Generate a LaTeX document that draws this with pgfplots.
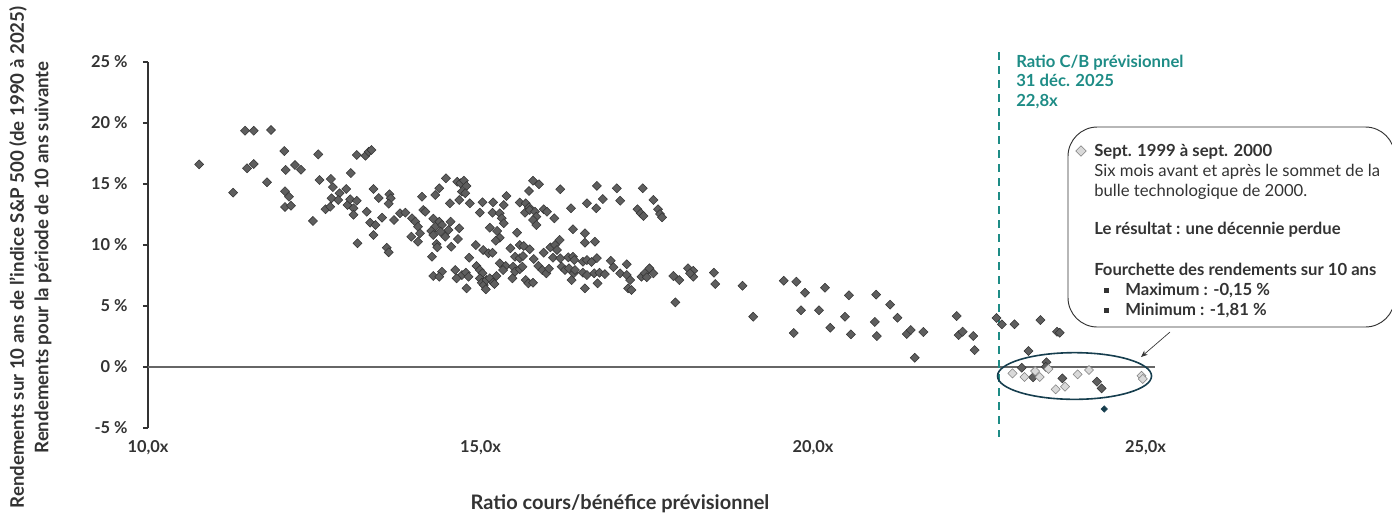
\documentclass[border=0pt]{standalone}
\usepackage{pgfplots}
\pgfplotsset{compat=1.18}
\usepackage{fontspec}
\setmainfont{Lato}
\usetikzlibrary{arrows.meta}
\definecolor{ptdark}{HTML}{5E5E5E}
\definecolor{ptedge}{HTML}{333333}
\definecolor{ptlight}{HTML}{D9D9D9}
\definecolor{ptlightedge}{HTML}{7F7F7F}
\definecolor{navy}{HTML}{163E4E}
\definecolor{tealc}{HTML}{1E8C86}
\definecolor{txt}{HTML}{333333}
\begin{document}
\begin{tikzpicture}
\useasboundingbox (0,0) rectangle (1044pt,-384pt);
\begin{axis}[
	at={(111pt,-321pt)},anchor=south west,
	scale only axis,width=755.6pt,height=274.5pt,
	xmin=10,xmax=25.15,ymin=-5,ymax=25,
	axis y line=left,axis x line=bottom,
	axis line style={-},
	x axis line style={draw=none},
	y axis line style={draw=ptedge,line width=0.8pt},
	xtick={10,15,20,25},
	xticklabels={{10,0x},{15,0x},{20,0x},{25,0x}},
	xtick style={draw=none},
	ytick={-5,0,5,10,15,20,25},
	yticklabels={{-5 \%},{0 \%},{5 \%},{10 \%},{15 \%},{20 \%},{25 \%}},
	ytick style={draw=ptedge,line width=0.8pt},
	tick align=outside,major tick length=3.75pt,
	ticklabel style={font=\fontsize{12.3}{14}\selectfont\bfseries,text=txt},
	xticklabel style={yshift=-2pt},
	yticklabel style={xshift=-8pt},
	clip=false]
\addplot[gray!80!black,line width=0.9pt] coordinates {(10,0) (25.15,0)};
\addplot[tealc,dashed,line width=1.1pt,dash pattern=on 6pt off 4.5pt] coordinates {(22.8,25.8) (22.8,-5.75)};
\addplot[only marks,mark=square*,mark size=2.4pt,mark options={rotate=45,fill=ptdark,draw=ptedge,line width=0.4pt}] table {
x y
10.77 16.61
11.28 14.29
11.46 19.37
11.59 19.37
11.85 19.43
11.49 16.29
11.59 16.64
11.79 15.14
12.05 17.70
12.07 16.15
12.21 16.56
12.30 16.17
12.06 14.40
12.12 13.96
12.06 13.11
12.15 13.22
12.56 17.43
12.48 11.97
12.58 15.33
12.75 15.41
12.78 14.75
12.67 12.93
12.74 13.14
12.76 13.83
12.88 14.24
12.86 13.69
12.98 14.59
13.05 15.90
13.00 13.28
13.04 13.75
13.14 13.63
13.09 13.01
13.09 12.48
13.14 17.38
13.27 17.32
13.32 17.65
13.36 17.79
13.15 10.14
13.29 12.73
13.34 11.83
13.42 11.64
13.39 14.59
13.47 13.85
13.39 10.82
13.52 12.24
13.59 9.78
13.62 9.40
13.63 14.16
13.65 13.83
13.62 13.39
13.70 12.05
14.48 15.47
14.65 15.19
14.70 15.06
14.75 15.27
14.79 14.84
14.72 14.37
14.77 14.24
14.38 14.65
14.32 14.10
14.12 13.96
14.54 13.42
14.68 13.69
14.84 13.42
15.03 13.50
15.19 13.50
15.35 13.28
15.39 14.02
14.99 12.65
15.18 12.65
15.29 12.60
15.32 12.19
15.35 11.78
15.14 11.42
15.25 11.15
15.29 10.60
15.23 10.35
15.79 15.27
15.88 14.98
15.73 14.43
16.20 14.57
16.75 14.84
17.05 14.65
17.44 14.65
16.84 13.77
17.10 13.63
16.60 13.42
16.74 13.01
17.60 13.69
17.36 12.93
17.41 12.60
17.45 12.38
17.67 12.93
17.70 12.54
17.73 12.27
15.59 13.48
15.68 13.42
15.73 13.09
15.67 12.65
15.74 12.87
15.82 12.73
15.84 12.32
15.79 12.05
15.84 11.64
15.95 12.93
16.00 12.73
16.11 12.19
16.36 13.01
13.79 12.60
13.87 12.65
13.97 12.19
14.02 11.91
14.14 12.87
14.17 12.73
14.29 12.16
14.38 11.91
14.32 11.50
14.42 11.64
14.40 11.09
14.55 11.91
14.52 11.23
14.47 10.68
14.68 11.37
14.66 10.49
14.06 11.50
14.09 10.96
13.96 10.68
14.06 10.27
14.26 11.15
14.29 10.82
14.34 10.08
14.35 9.81
14.56 9.86
14.27 9.04
15.55 11.01
16.39 11.29
16.57 10.96
16.57 10.19
16.72 10.27
14.93 10.00
15.04 9.59
15.12 9.32
15.18 9.37
14.83 8.96
15.45 9.73
15.59 10.00
15.65 9.92
15.52 9.04
15.59 8.91
15.64 9.10
15.74 9.65
15.80 8.85
15.95 9.37
16.05 9.81
16.12 10.00
16.19 10.41
16.15 9.59
16.09 8.96
16.20 8.91
16.32 8.99
16.39 9.04
16.41 8.77
16.54 8.63
16.60 8.77
16.67 8.61
16.75 8.93
16.96 8.71
17.00 8.17
17.20 8.42
14.29 7.46
14.42 7.81
14.38 7.40
14.62 7.95
14.72 7.54
14.78 7.73
14.82 7.40
14.64 7.27
14.79 6.45
14.94 8.28
14.99 7.95
15.03 7.68
14.99 7.27
15.02 6.91
15.05 6.72
15.09 7.13
15.14 7.27
15.19 6.91
15.24 7.46
15.21 6.80
15.08 6.37
15.29 8.50
15.38 8.28
15.34 7.95
15.49 8.22
15.52 7.81
15.59 8.01
15.63 8.22
15.48 7.27
15.68 7.13
15.72 6.86
15.79 6.91
15.87 8.28
15.93 7.95
15.99 7.68
16.03 8.06
16.22 8.22
16.27 7.95
16.33 8.09
16.40 7.68
16.42 7.95
16.37 7.13
16.54 7.73
16.60 7.54
16.71 7.68
16.79 7.73
16.87 7.62
16.57 6.45
16.76 6.86
17.10 7.68
17.20 7.54
17.25 7.13
17.22 6.45
17.27 6.31
17.42 7.40
17.47 7.68
17.54 8.09
17.60 7.68
17.50 7.35
17.90 7.46
17.99 7.13
18.12 8.09
18.20 7.89
18.20 7.40
18.15 7.68
18.51 7.73
18.53 6.80
17.93 5.30
18.94 6.66
19.10 4.12
19.56 7.07
19.75 6.99
19.88 6.09
20.18 6.50
19.82 4.65
20.09 4.65
19.71 2.79
20.26 3.22
20.48 4.12
20.54 5.88
20.57 2.68
20.95 5.93
21.16 5.11
21.27 4.04
20.93 3.69
20.96 2.54
21.41 2.70
21.47 3.03
21.66 2.87
21.53 0.76
22.16 4.18
22.19 2.62
22.25 2.89
22.41 2.54
22.43 1.39
22.76 4.02
22.84 3.50
23.03 3.50
23.42 3.85
23.67 2.89
23.71 2.81
23.24 1.31
23.14 -0.06
23.51 0.39
23.50 0.02
23.31 -0.84
23.75 -0.93
24.27 -1.20
24.34 -1.75
};
\addplot[only marks,mark=square*,mark size=2.4pt,mark options={rotate=45,fill=ptlight,draw=ptlightedge,line width=0.4pt}] table {
x y
23.00 -0.52
23.18 -0.82
23.34 -0.33
23.41 -0.82
23.54 -0.16
23.65 -1.83
23.79 -1.61
23.98 -0.60
24.15 -0.25
24.94 -0.71
24.96 -0.98
};
\addplot[only marks,mark=square*,mark size=1.7pt,mark options={rotate=45,fill=navy,draw=navy}] coordinates {(24.38,-3.44)};
\end{axis}
% ellipse round the 1999-2000 points
\draw[navy,line width=1.2pt] (805.9pt,-282pt) ellipse [x radius=57.75pt,y radius=17.5pt];
\draw[txt,line width=0.5pt,-{Stealth[length=5pt,width=4pt]}] (877.5pt,-249pt) -- (855.75pt,-267.75pt);
% forward P/E note
\begin{scope}[every node/.style={anchor=base west,inner sep=0pt,text=tealc,font=\fontsize{12.5}{14}\selectfont\bfseries}]
\node at (762pt,-50.5pt) {Ratio C/B prévisionnel};
\node at (762pt,-65pt) {31 déc. 2025};
\node at (762pt,-80pt) {22,8x};
\end{scope}
% call-out box
\draw[txt,line width=0.7pt,rounded corners=22pt] (801pt,-95.25pt) rectangle (1046pt,-245.25pt);
\node[draw=ptlightedge,fill=ptlight,line width=0.4pt,rotate=45,minimum size=5.6pt,inner sep=0pt] at (810.75pt,-113.25pt) {};
\begin{scope}[every node/.style={anchor=base west,inner sep=0pt,text=txt,font=\fontsize{12.5}{14}\selectfont}]
\node[font=\fontsize{12.5}{14}\selectfont\bfseries] at (820.5pt,-117.5pt) {Sept. 1999 à sept. 2000};
\node at (820.5pt,-132.5pt) {Six mois avant et après le sommet de la};
\node at (820.5pt,-147pt) {bulle technologique de 2000.};
\node[font=\fontsize{12.5}{14}\selectfont\bfseries] at (820.5pt,-176pt) {Le résultat : une décennie perdue};
\node[font=\fontsize{12.5}{14}\selectfont\bfseries] at (820.5pt,-206.75pt) {Fourchette des rendements sur 10 ans};
\node[font=\fontsize{12.5}{14}\selectfont\bfseries] at (843.75pt,-221.75pt) {Maximum : -0,15 \%};
\node[font=\fontsize{12.5}{14}\selectfont\bfseries] at (843.75pt,-236.75pt) {Minimum : -1,81 \%};
\end{scope}
\fill[txt] (827.7pt,-219.6pt) rectangle ++(3.8pt,3.8pt);
\fill[txt] (827.7pt,-234.6pt) rectangle ++(3.8pt,3.8pt);
% axis titles
\node[text=txt,font=\fontsize{15}{17}\selectfont\bfseries] at (465pt,-377.5pt) {Ratio cours/bénéfice prévisionnel};
\node[text=txt,rotate=90,font=\fontsize{14}{16}\selectfont\bfseries] at (13.5pt,-193pt) {Rendements sur 10 ans de l'indice S\&P 500 (de 1990 à 2025)};
\node[text=txt,rotate=90,font=\fontsize{14}{16}\selectfont\bfseries] at (32.25pt,-193pt) {Rendements pour la période de 10 ans suivante};
\end{tikzpicture}
\end{document}
